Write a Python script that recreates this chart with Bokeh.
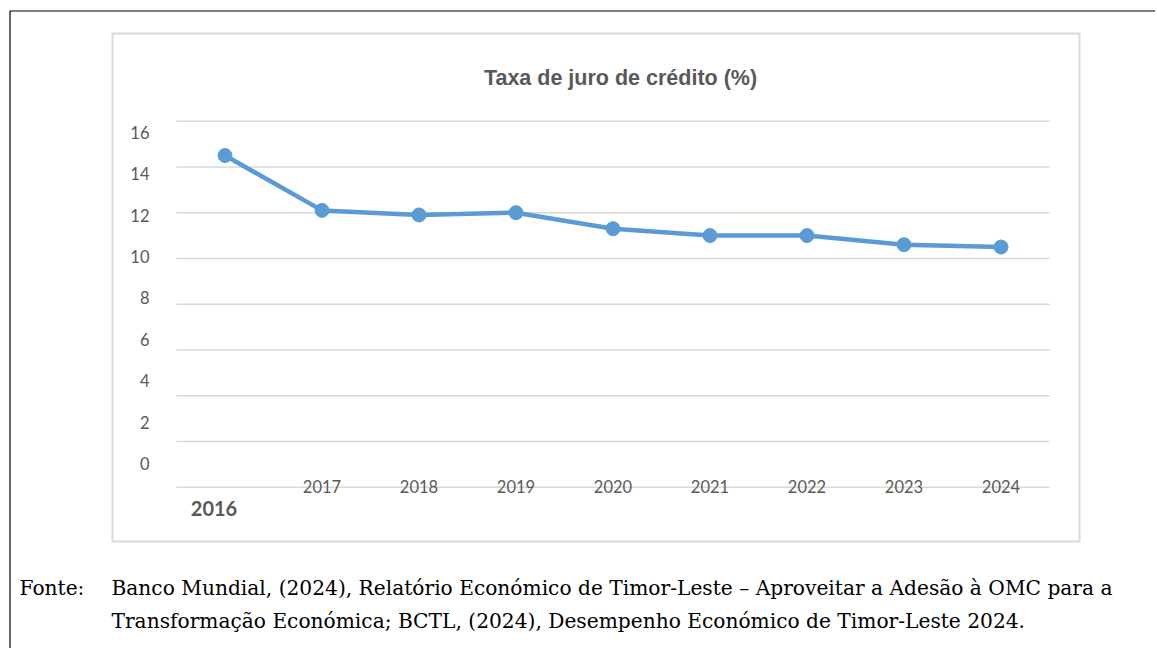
from bokeh.plotting import figure
from bokeh.models import Range1d, Label, BoxAnnotation
from bokeh.core.properties import value
from bokeh.embed import file_html
from bokeh.resources import INLINE

# ---- data ----
years = ["2016", "2017", "2018", "2019", "2020", "2021", "2022", "2023", "2024"]
rates = [14.5, 12.1, 11.9, 12.0, 11.3, 11.0, 11.0, 10.6, 10.5]
y_ticks = [0, 2, 4, 6, 8, 10, 12, 14, 16]
title_text = "Taxa de juro de crédito (%)"
source_label = "Fonte:"
source_line1 = "Banco Mundial, (2024), Relatório Económico de Timor-Leste – Aproveitar a Adesão à OMC para a"
source_line2 = "Transformação Económica; BCTL, (2024), Desempenho Económico de Timor-Leste 2024."

LABEL_COLOR = "#595959"
GRID_COLOR = "#d9d9d9"
LINE_COLOR = "#5b9bd5"
AXIS_FONT = "Lato"
NOTE_FONT = "DejaVu Serif"

W, H = 1155, 648
# layout of the plot area in pixels
CAT0_PX, CAT_W = 224.5, 97.0        # centre of first category, category width
Y0_PX, Y_PX = 486.7, 22.875         # pixel of value 0, pixels per unit (grid scale)
L0_PX, L_PX = 463.0, 20.7           # pixel of value 0, pixels per unit (tick-label scale)

xs = list(range(len(years)))

p = figure(width=W, height=H,
           x_range=Range1d(-CAT0_PX / CAT_W, (W - CAT0_PX) / CAT_W),
           y_range=Range1d((Y0_PX - H) / Y_PX, Y0_PX / Y_PX),
           x_axis_location=None, y_axis_location=None,
           output_backend="svg", toolbar_location=None,
           min_border=0, min_border_left=0, min_border_right=0,
           min_border_top=0, min_border_bottom=0)
p.outline_line_color = None
p.background_fill_color = "white"
p.border_fill_color = "white"
p.xgrid.visible = False
p.ygrid.visible = False
p.extra_y_ranges = {"lab": Range1d((L0_PX - H) / L_PX, L0_PX / L_PX)}

# horizontal gridlines across the category area
left_edge = xs[0] - 0.5
right_edge = xs[-1] + 0.5
p.segment(x0=[left_edge] * len(y_ticks), x1=[right_edge] * len(y_ticks),
          y0=y_ticks, y1=y_ticks, line_color=GRID_COLOR, line_width=1.5)

# y tick labels
p.text(x=[left_edge] * len(y_ticks), y=y_ticks, text=[str(t) for t in y_ticks],
       y_range_name="lab", x_offset=-27,
       text_font=value(AXIS_FONT), text_font_size="16.5px", text_color=LABEL_COLOR,
       text_align="right", text_baseline="middle")

# x tick labels (2017..2024 sit on the zero line; 2016 bold and lower)
p.text(x=xs[1:], y=[0] * (len(years) - 1), text=years[1:], y_offset=-1,
       text_font=value(AXIS_FONT), text_font_size="16.5px", text_color=LABEL_COLOR,
       text_align="center", text_baseline="middle")
p.text(x=[xs[0]], y=[0], text=[years[0]], x_offset=-11, y_offset=21,
       text_font=value(AXIS_FONT), text_font_style="bold", text_font_size="20px",
       text_color=LABEL_COLOR, text_align="center", text_baseline="middle")

# series
p.line(xs, rates, line_color=LINE_COLOR, line_width=4.5)
p.scatter(xs, rates, size=14, fill_color=LINE_COLOR, line_color=LINE_COLOR)

# chart border (light grey) and page frame (black, top and left)
p.add_layout(BoxAnnotation(left=112, right=1079, top=H - 33, bottom=H - 541,
                           left_units="screen", right_units="screen",
                           top_units="screen", bottom_units="screen",
                           fill_alpha=0, line_color=GRID_COLOR, line_alpha=1.0,
                           line_width=2))
p.add_layout(BoxAnnotation(left=9.5, right=W + 50, top=H - 10.5, bottom=-50,
                           left_units="screen", right_units="screen",
                           top_units="screen", bottom_units="screen",
                           fill_alpha=0, line_color="black", line_alpha=1.0,
                           line_width=1.2))

# title
p.add_layout(Label(x=620, y=H - 77, x_units="screen", y_units="screen", text=title_text,
                   text_font="Liberation Sans", text_font_style="bold",
                   text_font_size="21.5px", text_color=LABEL_COLOR,
                   text_align="center", text_baseline="middle"))

# source note
for txt, px, py in [(source_label, 19, 587), (source_line1, 111, 587), (source_line2, 111, 620)]:
    p.add_layout(Label(x=px, y=H - py, x_units="screen", y_units="screen", text=txt,
                       text_font=NOTE_FONT, text_font_size="20.2px",
                       text_color="black", text_baseline="middle", text_align="left"))

open("out.html", "w").write(file_html(p, INLINE))
